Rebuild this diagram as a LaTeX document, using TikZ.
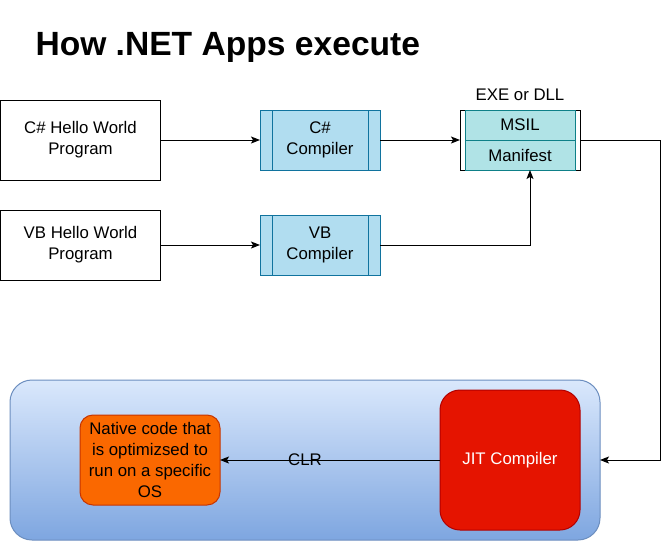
\documentclass[tikz,border=0pt]{standalone}
\usepackage{fontspec}
\setmainfont{Liberation Sans}
\usetikzlibrary{arrows.meta,positioning}
\definecolor{compfill}{HTML}{B1DDF0}
\definecolor{compline}{HTML}{10739E}
\definecolor{partfill}{HTML}{B0E3E6}
\definecolor{partline}{HTML}{0E8088}
\definecolor{clrtop}{HTML}{DAE8FC}
\definecolor{clrbottom}{HTML}{7EA6E0}
\definecolor{clrline}{HTML}{6C8EBF}
\definecolor{jitfill}{HTML}{E51400}
\definecolor{jitline}{HTML}{B20000}
\definecolor{nativefill}{HTML}{FA6800}
\definecolor{nativeline}{HTML}{C73500}
\newcommand\diafont{\fontsize{16.8}{21}\selectfont}
\begin{document}
\begin{tikzpicture}[x=1pt,y=-1pt,line width=1pt,>={Stealth[length=9pt,width=7pt,inset=2pt]},
		box/.style={font=\diafont,align=center,inner sep=0pt,outer sep=0pt},
		prog/.style={box,draw=black,fill=white,minimum width=160pt},
		comp/.style={box,draw=compline,fill=compfill,minimum width=120pt,minimum height=60pt,
			path picture={\draw[compline] ([xshift=12pt]path picture bounding box.north west) -- ([xshift=12pt]path picture bounding box.south west);
				\draw[compline] ([xshift=-12pt]path picture bounding box.north east) -- ([xshift=-12pt]path picture bounding box.south east);}},
		part/.style={box,draw=partline,fill=partfill,minimum width=110pt,minimum height=30pt},
		lbl/.style={font=\diafont,inner sep=0pt}]
	\useasboundingbox (0,0) rectangle (670,541);
	% title
	\node[anchor=base west,inner sep=0pt,font=\fontsize{33.6}{40}\selectfont\bfseries] (title) at (35,55) {How .NET Apps execute};
	% sources and compilers
	\node[prog,minimum height=80pt] (cshello) at (80.5,140) {C\# Hello World\\Program};
	\node[prog,minimum height=70pt] (vbhello) at (80.5,245) {VB Hello World\\Program};
	\node[comp] (cscomp) at (320,140) {C\#\\Compiler};
	\node[comp] (vbcomp) at (320,245) {VB\\Compiler};
	% assembly
	\node[box,draw=black,fill=white,minimum width=120pt,minimum height=60pt] (exe) at (520,140) {};
	\node[part] (msil) at (520,125) {MSIL};
	\node[part] (manifest) at (520,155) {Manifest};
	\node[lbl] (exelabel) at (520,95) {EXE or DLL};
	% runtime
	\node[box,draw=clrline,top color=clrtop,bottom color=clrbottom,rounded corners=22pt,
		minimum width=590pt,minimum height=160pt] (clr) at (305,460) {};
	\node[box,draw=jitline,fill=jitfill,text=white,rounded corners=20pt,
		minimum width=140pt,minimum height=140pt] (jit) at (510,460) {JIT Compiler};
	\node[box,draw=nativeline,fill=nativefill,rounded corners=13pt,
		minimum width=140pt,minimum height=90pt] (native) at (150,460) {Native code that\\is optimizsed to\\run on a specific\\OS};
	\coordinate (turn) at (660,140);
	% arrows
	\draw[->] (cshello) -- (cscomp);
	\draw[->] (vbhello) -- (vbcomp);
	\draw[->] (cscomp) -- (exe);
	\draw[->] (vbcomp.east) -| ([xshift=10pt]manifest.south);
	\draw[->] (exe.east) -- (turn) |- (clr.east);
	\draw[->] (jit) -- (native);
	\node[lbl] (clrlabel) at (305,460) {CLR};
\end{tikzpicture}
\end{document}
